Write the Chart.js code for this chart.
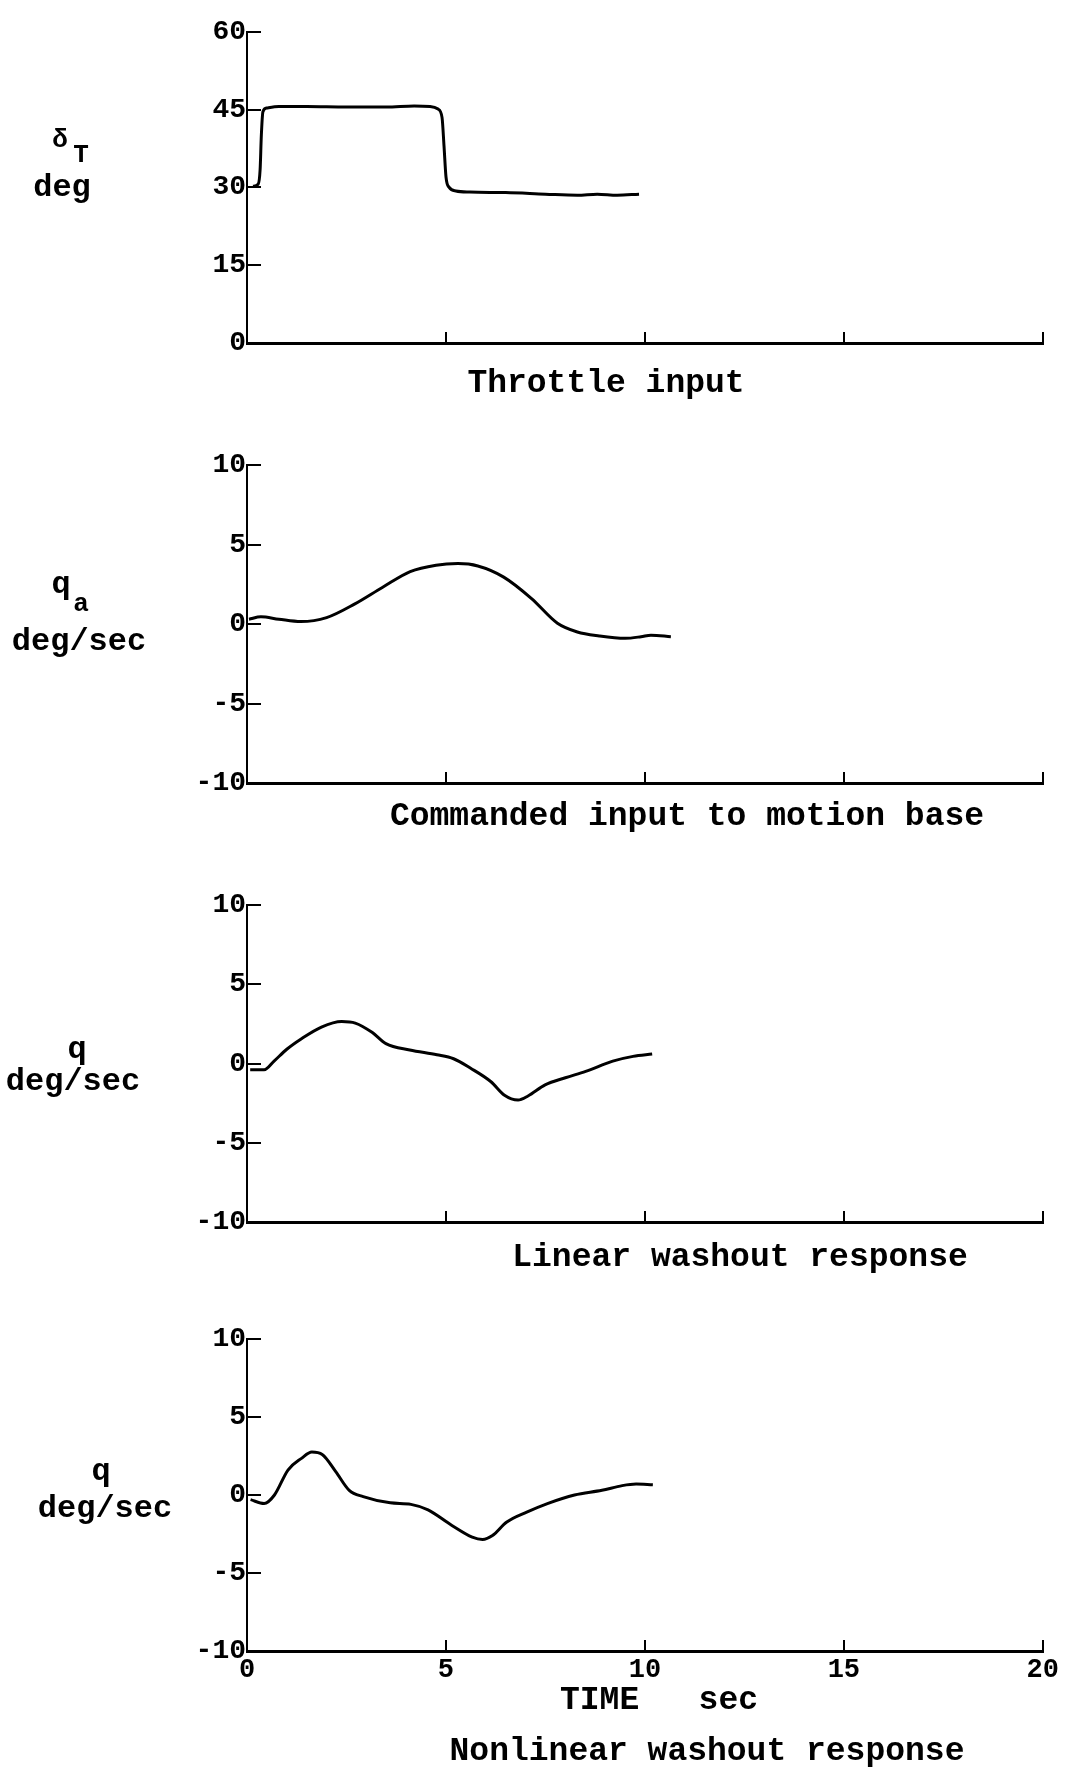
<!DOCTYPE html>
<html>
<head>
<meta charset="utf-8">
<title>Throttle input and washout responses</title>
<script src="https://cdn.jsdelivr.net/npm/chart.js@4.4.1/dist/chart.umd.min.js"></script>
<style>
    html, body { margin: 0; padding: 0; background: #fff; }
    #page { position: relative; width: 1073px; height: 1769px; overflow: hidden; }
    #page canvas { position: absolute; left: 0; }
</style>
</head>
<body>
<div id="page">
    <canvas id="throttleChart" width="1073" height="430" style="top:0px"></canvas>
    <canvas id="commandChart" width="1073" height="440" style="top:430px"></canvas>
    <canvas id="linearChart" width="1073" height="420" style="top:870px"></canvas>
    <canvas id="nonlinearChart" width="1073" height="479" style="top:1290px"></canvas>
</div>
<script>
// Values (time in sec)
const throttleTime = [0.15, 0.28, 0.33, 0.36, 0.40, 0.50, 0.80, 1.5, 2.5, 3.5, 4.2, 4.6, 4.8, 4.9, 4.95, 5.0, 5.08, 5.25, 5.6, 6.5, 7.5, 8.3, 8.8, 9.3, 9.85];
const throttleDeg = [30.2, 30.6, 33.5, 40, 44.6, 45.3, 45.6, 45.6, 45.5, 45.5, 45.7, 45.6, 45.1, 43.5, 38, 32, 30.0, 29.3, 29.1, 29.0, 28.7, 28.5, 28.7, 28.5, 28.7];

const commandTime = [0.05, 0.35, 0.8, 1.35, 2.0, 2.7, 3.4, 4.1, 4.75, 5.3, 5.8, 6.45, 7.15, 7.8, 8.3, 8.85, 9.5, 9.9, 10.15, 10.65];
const commandRate = [0.3, 0.45, 0.3, 0.15, 0.4, 1.25, 2.3, 3.3, 3.7, 3.8, 3.65, 2.95, 1.6, 0.05, -0.5, -0.75, -0.9, -0.8, -0.7, -0.8];

const linearTime = [0.08, 0.43, 0.68, 1.0, 1.36, 1.87, 2.38, 2.72, 3.15, 3.49, 4.09, 4.77, 5.19, 5.62, 6.13, 6.47, 6.81, 7.06, 7.49, 8.0, 8.51, 9.19, 9.7, 10.18];
const linearRate = [-0.4, -0.4, 0.15, 0.9, 1.55, 2.3, 2.65, 2.55, 1.95, 1.25, 0.85, 0.55, 0.3, -0.3, -1.15, -2.0, -2.3, -2.05, -1.35, -0.9, -0.5, 0.15, 0.45, 0.6];

const nonlinearTime = [0.09, 0.43, 0.69, 1.03, 1.37, 1.63, 1.89, 2.23, 2.57, 2.92, 3.6, 4.12, 4.55, 5.15, 5.66, 5.92, 6.17, 6.52, 7.03, 7.55, 8.23, 8.92, 9.43, 9.78, 10.2];
const nonlinearRate = [-0.3, -0.55, 0, 1.6, 2.35, 2.75, 2.6, 1.5, 0.3, -0.1, -0.5, -0.6, -0.95, -1.95, -2.7, -2.85, -2.6, -1.75, -1.1, -0.55, 0, 0.3, 0.6, 0.7, 0.65];

// axis ranges and tick steps
const timeRange = [0, 20];
const timeStep = 5;
const throttleRange = [0, 60];
const throttleStep = 15;
const rateRange = [-10, 10];
const rateStep = 5;

const FONT = "'Liberation Mono', 'DejaVu Sans Mono', monospace";

Chart.defaults.font.family = FONT;
Chart.defaults.font.weight = 'bold';
Chart.defaults.color = '#000';

// draws the side labels and the caption under each panel
const captionPlugin = {
    id: 'captions',
    afterDraw(chart, args, opts) {
        const ctx = chart.ctx;
        ctx.save();
        ctx.fillStyle = '#000';
        ctx.textBaseline = 'middle';
        (opts.items || []).forEach(item => {
            ctx.font = 'bold ' + item.size + 'px ' + FONT;
            ctx.textAlign = item.align || 'center';
            ctx.fillText(item.text, item.x, item.y);
        });
        ctx.restore();
    }
};

function toPoints(xs, ys) {
    return xs.map((x, i) => ({ x: x, y: ys[i] }));
}

function buildChart(id, xs, ys, yRange, yStep, opts) {
    const showTime = !!opts.showTime;
    return new Chart(document.getElementById(id), {
        type: 'line',
        data: {
            datasets: [{
                data: toPoints(xs, ys),
                borderColor: '#000',
                borderWidth: 3,
                pointRadius: 0,
                fill: false,
                cubicInterpolationMode: 'monotone'
            }]
        },
        options: {
            responsive: false,
            animation: false,
            events: [],
            layout: {
                autoPadding: false,
                padding: { left: 147, right: 30, top: opts.top, bottom: opts.bottom }
            },
            plugins: {
                legend: { display: false },
                tooltip: { enabled: false },
                captions: { items: opts.captions }
            },
            scales: {
                x: {
                    type: 'linear',
                    min: timeRange[0],
                    max: timeRange[1],
                    border: { display: true, color: '#000', width: 3 },
                    grid: { drawOnChartArea: false, drawTicks: true, tickLength: -11, color: '#000', lineWidth: 2 },
                    ticks: {
                        display: showTime,
                        stepSize: timeStep,
                        padding: 14,
                        font: { size: 27, weight: 'bold' }
                    },
                    afterFit: s => { s.height = opts.xHeight || 0; }
                },
                y: {
                    min: yRange[0],
                    max: yRange[1],
                    border: { display: true, color: '#000', width: 2 },
                    grid: { drawOnChartArea: false, drawTicks: true, tickLength: -14, color: '#000', lineWidth: 2 },
                    ticks: {
                        stepSize: yStep,
                        padding: 15,
                        font: { size: 28, weight: 'bold' }
                    },
                    afterFit: s => { s.width = 100; }
                }
            }
        },
        plugins: [captionPlugin]
    });
}

buildChart('throttleChart', throttleTime, throttleDeg, throttleRange, throttleStep, {
    top: 31, bottom: 87,
    captions: [
        { text: 'δ', x: 60, y: 140, size: 26 },
        { text: 'T', x: 81, y: 155, size: 26 },
        { text: 'deg', x: 62, y: 188, size: 32 },
        { text: 'Throttle input', x: 606, y: 384, size: 33 }
    ]
});

buildChart('commandChart', commandTime, commandRate, rateRange, rateStep, {
    top: 35, bottom: 87,
    captions: [
        { text: 'q', x: 61, y: 155, size: 32 },
        { text: 'a', x: 81, y: 174, size: 26 },
        { text: 'deg/sec', x: 79, y: 212, size: 32 },
        { text: 'Commanded input to motion base', x: 687, y: 387, size: 33 }
    ]
});

buildChart('linearChart', linearTime, linearRate, rateRange, rateStep, {
    top: 35, bottom: 68,
    captions: [
        { text: 'q', x: 77, y: 180, size: 32 },
        { text: 'deg/sec', x: 73, y: 212, size: 32 },
        { text: 'Linear washout response', x: 740, y: 388, size: 33 }
    ]
});

buildChart('nonlinearChart', nonlinearTime, nonlinearRate, rateRange, rateStep, {
    top: 49, bottom: 48, xHeight: 70, showTime: true,
    captions: [
        { text: 'q', x: 101, y: 182, size: 32 },
        { text: 'deg/sec', x: 105, y: 219, size: 32 },
        { text: 'TIME   sec', x: 659, y: 411, size: 33 },
        { text: 'Nonlinear washout response', x: 707, y: 462, size: 33 }
    ]
});
</script>
</body>
</html>
